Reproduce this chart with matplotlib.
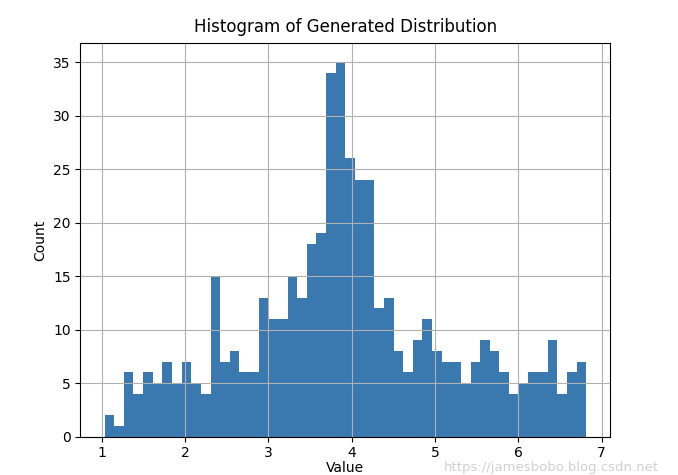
import numpy as np
import matplotlib
matplotlib.use("Agg")
import matplotlib.pyplot as plt

# conteos por bin (50 bins)
counts = [2, 1, 6, 4, 6, 5, 7, 5, 7, 5,
          4, 15, 7, 8, 6, 6, 13, 11, 11, 15,
          13, 18, 19, 34, 35, 26, 24, 24, 12, 13,
          8, 6, 9, 11, 8, 7, 7, 5, 7, 9,
          8, 6, 4, 5, 6, 6, 9, 4, 6, 7]
val_min = 1.033
val_max = 6.815
n_bins = 50

edges = np.linspace(val_min, val_max, n_bins + 1)
centers = (edges[:-1] + edges[1:]) / 2

fig = plt.figure(figsize=(6.78, 4.75), dpi=100)
ax = fig.add_subplot(111)
fig.subplots_adjust(left=0.1187, right=0.9001, top=0.9088, bottom=0.0806)

ax.hist(centers, bins=edges, weights=counts, color="#3a78b0")
ax.grid(True)
ax.set_title("Histogram of Generated Distribution", pad=8)
ax.set_xlabel("Value", labelpad=0.5)
ax.set_ylabel("Count")

# marca de agua (debajo de las etiquetas de los ticks)
fig.text(0.655, 0.016, "https://jamesbobo.blog.csdn.net", color="#d0d0d0",
         fontsize=9.5, va="center", ha="left")

fig.savefig("out.png", dpi=100)
